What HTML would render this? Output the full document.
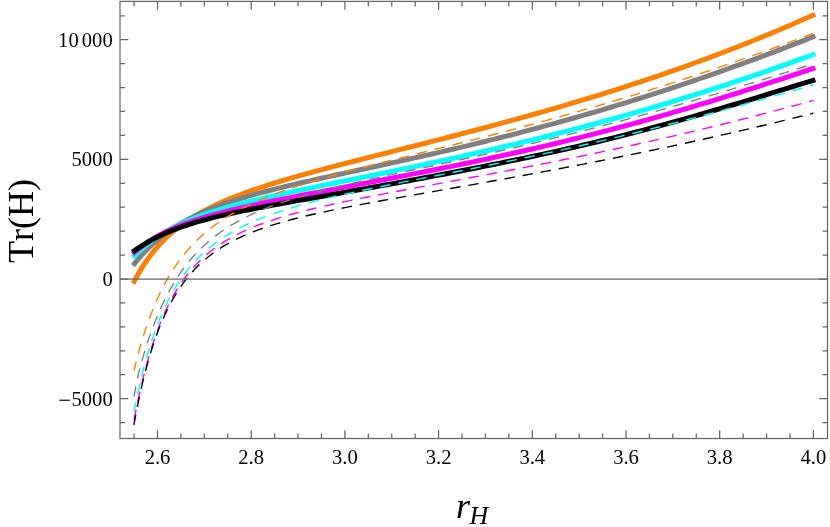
<!DOCTYPE html>
<html><head><meta charset="utf-8"><title>plot</title>
<style>
html,body{margin:0;padding:0;background:#fff;}
body{width:830px;height:527px;overflow:hidden;font-family:"Liberation Serif",serif;}
svg{display:block;}
text{font-family:"Liberation Serif",serif;fill:#000;font-kerning:none;}
</style></head><body>
<svg style="will-change:transform" width="830" height="527" viewBox="0 0 830 527">
<rect width="830" height="527" fill="#fff"/>
<defs><clipPath id="c"><rect x="120.0" y="1.4" width="707.5" height="437.1"/></clipPath></defs>
<g clip-path="url(#c)" stroke-linecap="butt" stroke-linejoin="round">
<path d="M133.16,283.51 L134.07,281.73 L134.28,281.33 L134.69,280.53 L135.26,279.46 L135.95,278.17 L136.76,276.69 L137.66,275.06 L138.67,273.30 L139.76,271.43 L140.94,269.47 L142.20,267.44 L143.54,265.34 L144.95,263.20 L146.44,261.02 L148.00,258.82 L149.62,256.60 L151.31,254.37 L153.07,252.15 L154.89,249.93 L156.77,247.72 L158.71,245.53 L160.71,243.36 L162.76,241.21 L164.88,239.09 L167.05,237.01 L169.28,234.95 L171.55,232.93 L173.89,230.95 L176.27,229.00 L178.71,227.08 L181.20,225.21 L183.74,223.37 L186.32,221.57 L188.96,219.80 L191.65,218.07 L194.38,216.37 L197.16,214.71 L199.99,213.09 L202.86,211.49 L205.78,209.93 L208.74,208.40 L211.75,206.89 L214.81,205.42 L217.90,203.97 L221.04,202.55 L224.23,201.15 L227.46,199.77 L230.72,198.42 L234.04,197.09 L237.39,195.78 L240.78,194.48 L244.22,193.21 L247.69,191.95 L251.21,190.70 L254.77,189.47 L258.36,188.25 L262.00,187.05 L265.67,185.85 L269.38,184.67 L273.14,183.49 L276.93,182.33 L280.75,181.17 L284.62,180.01 L288.52,178.87 L292.47,177.72 L296.44,176.59 L300.46,175.45 L304.51,174.32 L308.60,173.19 L312.72,172.06 L316.88,170.94 L321.08,169.81 L325.31,168.68 L329.58,167.55 L333.88,166.42 L338.22,165.29 L342.59,164.16 L347.00,163.02 L351.44,161.88 L355.92,160.73 L360.43,159.58 L364.97,158.42 L369.55,157.26 L374.16,156.09 L378.81,154.92 L383.48,153.74 L388.20,152.55 L392.94,151.35 L397.72,150.14 L402.53,148.93 L407.37,147.71 L412.24,146.47 L417.15,145.23 L422.09,143.98 L427.06,142.71 L432.06,141.44 L437.10,140.15 L442.16,138.85 L447.26,137.54 L452.39,136.21 L457.55,134.88 L462.74,133.52 L467.96,132.16 L473.22,130.78 L478.50,129.38 L483.81,127.97 L489.16,126.55 L494.53,125.11 L499.94,123.65 L505.37,122.17 L510.84,120.68 L516.34,119.17 L521.86,117.64 L527.41,116.09 L533.00,114.52 L538.61,112.94 L544.26,111.33 L549.93,109.70 L555.63,108.05 L561.36,106.38 L567.12,104.69 L572.91,102.97 L578.72,101.23 L584.57,99.47 L590.44,97.68 L596.35,95.87 L602.28,94.03 L608.24,92.17 L614.23,90.28 L620.24,88.36 L626.29,86.42 L632.36,84.44 L638.46,82.44 L644.59,80.41 L650.74,78.35 L656.92,76.26 L663.13,74.13 L669.37,71.98 L675.64,69.79 L681.93,67.57 L688.25,65.31 L694.60,63.02 L700.97,60.70 L707.37,58.34 L713.80,55.94 L720.26,53.50 L726.74,51.03 L733.24,48.51 L739.78,45.96 L746.34,43.37 L752.93,40.73 L759.54,38.05 L766.18,35.33 L772.85,32.57 L779.54,29.76 L786.26,26.90 L793.01,24.00 L799.78,21.05 L806.58,18.06 L813.40,15.01 L815.23,14.19" fill="none" stroke="#ff8000" stroke-width="5.0"/>
<path d="M132.82,265.65 L134.07,264.09 L134.28,263.84 L134.69,263.33 L135.26,262.64 L135.95,261.80 L136.76,260.84 L137.66,259.76 L138.67,258.59 L139.76,257.34 L140.94,256.01 L142.20,254.62 L143.54,253.17 L144.95,251.68 L146.44,250.14 L148.00,248.58 L149.62,246.99 L151.31,245.38 L153.07,243.76 L154.89,242.13 L156.77,240.50 L158.71,238.87 L160.71,237.24 L162.76,235.62 L164.88,234.02 L167.05,232.43 L169.28,230.85 L171.55,229.29 L173.89,227.75 L176.27,226.23 L178.71,224.74 L181.20,223.27 L183.74,221.82 L186.32,220.39 L188.96,218.99 L191.65,217.61 L194.38,216.26 L197.16,214.93 L199.99,213.62 L202.86,212.34 L205.78,211.08 L208.74,209.84 L211.75,208.62 L214.81,207.43 L217.90,206.25 L221.04,205.10 L224.23,203.96 L227.46,202.84 L230.72,201.74 L234.04,200.65 L237.39,199.58 L240.78,198.53 L244.22,197.49 L247.69,196.46 L251.21,195.44 L254.77,194.43 L258.36,193.44 L262.00,192.45 L265.67,191.48 L269.38,190.51 L273.14,189.55 L276.93,188.59 L280.75,187.64 L284.62,186.70 L288.52,185.76 L292.47,184.82 L296.44,183.89 L300.46,182.95 L304.51,182.02 L308.60,181.09 L312.72,180.16 L316.88,179.23 L321.08,178.30 L325.31,177.36 L329.58,176.42 L333.88,175.48 L338.22,174.54 L342.59,173.59 L347.00,172.63 L351.44,171.67 L355.92,170.70 L360.43,169.73 L364.97,168.75 L369.55,167.76 L374.16,166.76 L378.81,165.76 L383.48,164.74 L388.20,163.72 L392.94,162.68 L397.72,161.64 L402.53,160.58 L407.37,159.51 L412.24,158.43 L417.15,157.33 L422.09,156.22 L427.06,155.10 L432.06,153.97 L437.10,152.82 L442.16,151.65 L447.26,150.47 L452.39,149.28 L457.55,148.06 L462.74,146.84 L467.96,145.59 L473.22,144.33 L478.50,143.05 L483.81,141.75 L489.16,140.44 L494.53,139.10 L499.94,137.75 L505.37,136.38 L510.84,134.98 L516.34,133.57 L521.86,132.14 L527.41,130.69 L533.00,129.21 L538.61,127.72 L544.26,126.20 L549.93,124.66 L555.63,123.10 L561.36,121.52 L567.12,119.91 L572.91,118.28 L578.72,116.63 L584.57,114.95 L590.44,113.25 L596.35,111.53 L602.28,109.78 L608.24,108.00 L614.23,106.20 L620.24,104.38 L626.29,102.53 L632.36,100.65 L638.46,98.75 L644.59,96.82 L650.74,94.87 L656.92,92.89 L663.13,90.88 L669.37,88.84 L675.64,86.78 L681.93,84.69 L688.25,82.57 L694.60,80.42 L700.97,78.25 L707.37,76.04 L713.80,73.81 L720.26,71.55 L726.74,69.25 L733.24,66.93 L739.78,64.58 L746.34,62.20 L752.93,59.79 L759.54,57.35 L766.18,54.88 L772.85,52.37 L779.54,49.84 L786.26,47.28 L793.01,44.68 L799.78,42.05 L806.58,39.39 L813.40,36.70 L815.26,35.97" fill="none" stroke="#808080" stroke-width="5.0"/>
<path d="M132.62,257.55 L134.07,256.17 L134.28,255.98 L134.69,255.59 L135.26,255.06 L135.95,254.41 L136.76,253.66 L137.66,252.81 L138.67,251.89 L139.76,250.89 L140.94,249.83 L142.20,248.72 L143.54,247.55 L144.95,246.35 L146.44,245.12 L148.00,243.86 L149.62,242.58 L151.31,241.28 L153.07,239.98 L154.89,238.67 L156.77,237.36 L158.71,236.06 L160.71,234.76 L162.76,233.47 L164.88,232.19 L167.05,230.92 L169.28,229.67 L171.55,228.43 L173.89,227.21 L176.27,226.01 L178.71,224.83 L181.20,223.66 L183.74,222.51 L186.32,221.38 L188.96,220.27 L191.65,219.18 L194.38,218.10 L197.16,217.05 L199.99,216.00 L202.86,214.98 L205.78,213.97 L208.74,212.97 L211.75,211.99 L214.81,211.02 L217.90,210.07 L221.04,209.12 L224.23,208.19 L227.46,207.27 L230.72,206.36 L234.04,205.46 L237.39,204.56 L240.78,203.68 L244.22,202.80 L247.69,201.93 L251.21,201.06 L254.77,200.20 L258.36,199.34 L262.00,198.49 L265.67,197.64 L269.38,196.79 L273.14,195.95 L276.93,195.11 L280.75,194.27 L284.62,193.42 L288.52,192.58 L292.47,191.74 L296.44,190.90 L300.46,190.05 L304.51,189.21 L308.60,188.36 L312.72,187.50 L316.88,186.65 L321.08,185.79 L325.31,184.92 L329.58,184.05 L333.88,183.18 L338.22,182.30 L342.59,181.41 L347.00,180.52 L351.44,179.62 L355.92,178.71 L360.43,177.80 L364.97,176.88 L369.55,175.95 L374.16,175.01 L378.81,174.06 L383.48,173.10 L388.20,172.13 L392.94,171.15 L397.72,170.16 L402.53,169.17 L407.37,168.15 L412.24,167.13 L417.15,166.10 L422.09,165.05 L427.06,164.00 L432.06,162.92 L437.10,161.84 L442.16,160.74 L447.26,159.63 L452.39,158.51 L457.55,157.37 L462.74,156.21 L467.96,155.05 L473.22,153.86 L478.50,152.66 L483.81,151.45 L489.16,150.22 L494.53,148.97 L499.94,147.71 L505.37,146.42 L510.84,145.13 L516.34,143.81 L521.86,142.48 L527.41,141.13 L533.00,139.76 L538.61,138.37 L544.26,136.96 L549.93,135.53 L555.63,134.09 L561.36,132.62 L567.12,131.13 L572.91,129.63 L578.72,128.10 L584.57,126.55 L590.44,124.98 L596.35,123.39 L602.28,121.78 L608.24,120.15 L614.23,118.49 L620.24,116.81 L626.29,115.11 L632.36,113.38 L638.46,111.64 L644.59,109.86 L650.74,108.07 L656.92,106.25 L663.13,104.40 L669.37,102.53 L675.64,100.64 L681.93,98.71 L688.25,96.77 L694.60,94.79 L700.97,92.80 L707.37,90.77 L713.80,88.72 L720.26,86.64 L726.74,84.53 L733.24,82.39 L739.78,80.23 L746.34,78.04 L752.93,75.82 L759.54,73.57 L766.18,71.29 L772.85,68.98 L779.54,66.64 L786.26,64.28 L793.01,61.88 L799.78,59.45 L806.58,56.99 L813.40,54.49 L815.28,53.81" fill="none" stroke="#00ffff" stroke-width="5.0"/>
<path d="M132.57,254.06 L134.07,252.74 L134.28,252.57 L134.69,252.20 L135.26,251.72 L135.95,251.13 L136.76,250.45 L137.66,249.71 L138.67,248.90 L139.76,248.03 L140.94,247.12 L142.20,246.17 L143.54,245.18 L144.95,244.17 L146.44,243.13 L148.00,242.07 L149.62,241.00 L151.31,239.92 L153.07,238.84 L154.89,237.75 L156.77,236.66 L158.71,235.57 L160.71,234.49 L162.76,233.41 L164.88,232.34 L167.05,231.28 L169.28,230.23 L171.55,229.20 L173.89,228.17 L176.27,227.16 L178.71,226.16 L181.20,225.17 L183.74,224.20 L186.32,223.24 L188.96,222.30 L191.65,221.37 L194.38,220.45 L197.16,219.55 L199.99,218.65 L202.86,217.78 L205.78,216.91 L208.74,216.05 L211.75,215.20 L214.81,214.37 L217.90,213.54 L221.04,212.72 L224.23,211.91 L227.46,211.10 L230.72,210.30 L234.04,209.51 L237.39,208.72 L240.78,207.94 L244.22,207.16 L247.69,206.39 L251.21,205.61 L254.77,204.84 L258.36,204.07 L262.00,203.30 L265.67,202.53 L269.38,201.77 L273.14,201.00 L276.93,200.23 L280.75,199.45 L284.62,198.68 L288.52,197.91 L292.47,197.13 L296.44,196.35 L300.46,195.56 L304.51,194.77 L308.60,193.98 L312.72,193.19 L316.88,192.39 L321.08,191.58 L325.31,190.77 L329.58,189.96 L333.88,189.14 L338.22,188.31 L342.59,187.48 L347.00,186.64 L351.44,185.80 L355.92,184.95 L360.43,184.09 L364.97,183.22 L369.55,182.35 L374.16,181.47 L378.81,180.58 L383.48,179.69 L388.20,178.78 L392.94,177.87 L397.72,176.95 L402.53,176.02 L407.37,175.08 L412.24,174.13 L417.15,173.17 L422.09,172.20 L427.06,171.21 L432.06,170.22 L437.10,169.22 L442.16,168.20 L447.26,167.17 L452.39,166.13 L457.55,165.08 L462.74,164.01 L467.96,162.93 L473.22,161.83 L478.50,160.73 L483.81,159.60 L489.16,158.46 L494.53,157.31 L499.94,156.14 L505.37,154.95 L510.84,153.75 L516.34,152.52 L521.86,151.28 L527.41,150.03 L533.00,148.75 L538.61,147.46 L544.26,146.14 L549.93,144.81 L555.63,143.46 L561.36,142.08 L567.12,140.69 L572.91,139.27 L578.72,137.84 L584.57,136.38 L590.44,134.90 L596.35,133.40 L602.28,131.87 L608.24,130.32 L614.23,128.75 L620.24,127.16 L626.29,125.54 L632.36,123.90 L638.46,122.23 L644.59,120.54 L650.74,118.82 L656.92,117.09 L663.13,115.32 L669.37,113.54 L675.64,111.72 L681.93,109.89 L688.25,108.03 L694.60,106.14 L700.97,104.23 L707.37,102.30 L713.80,100.35 L720.26,98.37 L726.74,96.36 L733.24,94.34 L739.78,92.29 L746.34,90.22 L752.93,88.12 L759.54,86.01 L766.18,83.87 L772.85,81.72 L779.54,79.54 L786.26,77.35 L793.01,75.13 L799.78,72.90 L806.58,70.66 L813.40,68.39 L815.30,67.76" fill="none" stroke="#ff00ff" stroke-width="5.0"/>
<path d="M132.45,252.15 L134.07,250.98 L134.28,250.84 L134.69,250.54 L135.26,250.14 L135.95,249.65 L136.76,249.09 L137.66,248.47 L138.67,247.79 L139.76,247.07 L140.94,246.30 L142.20,245.49 L143.54,244.66 L144.95,243.79 L146.44,242.91 L148.00,242.00 L149.62,241.08 L151.31,240.15 L153.07,239.20 L154.89,238.25 L156.77,237.30 L158.71,236.34 L160.71,235.38 L162.76,234.43 L164.88,233.47 L167.05,232.53 L169.28,231.59 L171.55,230.66 L173.89,229.73 L176.27,228.82 L178.71,227.91 L181.20,227.02 L183.74,226.14 L186.32,225.26 L188.96,224.40 L191.65,223.56 L194.38,222.72 L197.16,221.90 L199.99,221.08 L202.86,220.28 L205.78,219.49 L208.74,218.71 L211.75,217.94 L214.81,217.18 L217.90,216.43 L221.04,215.68 L224.23,214.95 L227.46,214.22 L230.72,213.49 L234.04,212.78 L237.39,212.07 L240.78,211.36 L244.22,210.66 L247.69,209.96 L251.21,209.26 L254.77,208.56 L258.36,207.87 L262.00,207.17 L265.67,206.48 L269.38,205.79 L273.14,205.09 L276.93,204.39 L280.75,203.69 L284.62,202.99 L288.52,202.28 L292.47,201.57 L296.44,200.86 L300.46,200.14 L304.51,199.42 L308.60,198.69 L312.72,197.96 L316.88,197.22 L321.08,196.48 L325.31,195.73 L329.58,194.97 L333.88,194.20 L338.22,193.43 L342.59,192.66 L347.00,191.87 L351.44,191.08 L355.92,190.28 L360.43,189.47 L364.97,188.65 L369.55,187.83 L374.16,187.00 L378.81,186.16 L383.48,185.31 L388.20,184.46 L392.94,183.59 L397.72,182.72 L402.53,181.84 L407.37,180.95 L412.24,180.05 L417.15,179.14 L422.09,178.22 L427.06,177.29 L432.06,176.35 L437.10,175.41 L442.16,174.45 L447.26,173.48 L452.39,172.50 L457.55,171.51 L462.74,170.51 L467.96,169.50 L473.22,168.47 L478.50,167.43 L483.81,166.38 L489.16,165.32 L494.53,164.24 L499.94,163.15 L505.37,162.04 L510.84,160.92 L516.34,159.79 L521.86,158.63 L527.41,157.46 L533.00,156.28 L538.61,155.07 L544.26,153.85 L549.93,152.61 L555.63,151.35 L561.36,150.07 L567.12,148.77 L572.91,147.45 L578.72,146.11 L584.57,144.75 L590.44,143.36 L596.35,141.95 L602.28,140.52 L608.24,139.07 L614.23,137.59 L620.24,136.09 L626.29,134.56 L632.36,133.00 L638.46,131.43 L644.59,129.82 L650.74,128.19 L656.92,126.54 L663.13,124.86 L669.37,123.15 L675.64,121.42 L681.93,119.66 L688.25,117.88 L694.60,116.07 L700.97,114.24 L707.37,112.39 L713.80,110.51 L720.26,108.61 L726.74,106.68 L733.24,104.74 L739.78,102.77 L746.34,100.79 L752.93,98.79 L759.54,96.78 L766.18,94.74 L772.85,92.70 L779.54,90.65 L786.26,88.58 L793.01,86.51 L799.78,84.44 L806.58,82.36 L813.40,80.29 L815.31,79.71" fill="none" stroke="#000000" stroke-width="5.0"/>
<path d="M813.40,33.32 L809.77,34.69 L806.14,36.06 L802.53,37.43 L798.92,38.78 L795.32,40.12 L791.72,41.46 L788.13,42.79 L784.55,44.11 L780.98,45.42 L777.41,46.73 L773.86,48.03 L770.31,49.32 L766.76,50.60 L763.23,51.87 L759.70,53.14 L756.18,54.40 L752.66,55.65 L749.16,56.89 L745.66,58.13 L742.17,59.35 L738.69,60.57 L735.21,61.79 L731.74,62.99 L728.28,64.19 L724.83,65.38 L721.38,66.56 L717.94,67.74 L714.51,68.90 L711.09,70.06 L707.67,71.22 L704.26,72.36 L700.86,73.50 L697.47,74.63 L694.09,75.76 L690.71,76.87 L687.34,77.98 L683.98,79.09 L680.62,80.18 L677.28,81.27 L673.94,82.35 L670.61,83.43 L667.28,84.50 L663.97,85.56 L660.66,86.61 L657.36,87.66 L654.07,88.70 L650.78,89.73 L647.51,90.76 L644.24,91.78 L640.98,92.79 L637.72,93.80 L634.48,94.80 L631.24,95.80 L628.01,96.78 L624.79,97.77 L621.57,98.74 L618.37,99.71 L615.17,100.67 L611.98,101.63 L608.80,102.58 L605.62,103.52 L602.46,104.46 L599.30,105.39 L596.15,106.31 L593.01,107.23 L589.87,108.15 L586.75,109.05 L583.63,109.95 L580.52,110.85 L577.42,111.74 L574.33,112.62 L571.24,113.50 L568.16,114.37 L565.09,115.24 L562.03,116.10 L558.98,116.96 L555.94,117.81 L552.90,118.65 L549.87,119.49 L546.85,120.32 L543.84,121.15 L540.84,121.98 L537.84,122.79 L534.85,123.61 L531.88,124.41 L528.91,125.22 L525.94,126.01 L522.99,126.81 L520.05,127.59 L517.11,128.38 L514.18,129.16 L511.26,129.93 L508.35,130.70 L505.45,131.46 L502.55,132.22 L499.67,132.98 L496.79,133.73 L493.92,134.47 L491.06,135.22 L488.21,135.95 L485.37,136.69 L482.53,137.42 L479.71,138.14 L476.89,138.86 L474.08,139.58 L471.28,140.29 L468.49,141.00 L465.71,141.71 L462.93,142.41 L460.17,143.11 L457.41,143.80 L454.67,144.50 L451.93,145.18 L449.20,145.87 L446.48,146.55 L443.76,147.23 L441.06,147.90 L438.37,148.58 L435.68,149.24 L433.00,149.91 L430.34,150.57 L427.68,151.24 L425.03,151.89 L422.39,152.55 L419.76,153.20 L417.13,153.85 L414.52,154.50 L411.92,155.15 L409.32,155.79 L406.74,156.44 L404.16,157.08 L401.59,157.72 L399.03,158.35 L396.48,158.99 L393.94,159.62 L391.41,160.26 L388.89,160.89 L386.38,161.52 L383.88,162.15 L381.38,162.77 L378.90,163.40 L376.43,164.03 L373.96,164.65 L371.50,165.28 L369.06,165.91 L366.62,166.53 L364.19,167.16 L361.78,167.78 L359.37,168.41 L356.97,169.03 L354.58,169.66 L352.20,170.28 L349.83,170.91 L347.47,171.54 L345.12,172.17 L342.78,172.80 L340.45,173.43 L338.13,174.06 L335.82,174.69 L333.52,175.33 L331.23,175.97 L328.95,176.61 L326.68,177.25 L324.42,177.90 L322.17,178.54 L319.93,179.19 L317.70,179.85 L315.48,180.50 L313.26,181.16 L311.06,181.82 L308.87,182.49 L306.69,183.16 L304.52,183.84 L302.37,184.52 L300.22,185.20 L298.08,185.89 L295.95,186.58 L293.83,187.28 L291.72,187.99 L289.63,188.70 L287.54,189.41 L285.47,190.14 L283.40,190.86 L281.35,191.60 L279.30,192.34 L277.27,193.09 L275.25,193.85 L273.24,194.61 L271.24,195.39 L269.25,196.17 L267.27,196.96 L265.30,197.76 L263.34,198.57 L261.40,199.39 L259.46,200.21 L257.54,201.05 L255.63,201.90 L253.73,202.76 L251.84,203.63 L249.96,204.51 L248.09,205.41 L246.24,206.31 L244.39,207.23 L242.56,208.16 L240.74,209.11 L238.93,210.07 L237.13,211.04 L235.34,212.02 L233.57,213.03 L231.80,214.04 L230.05,215.08 L228.31,216.13 L226.59,217.19 L224.87,218.27 L223.17,219.37 L221.48,220.49 L219.80,221.62 L218.13,222.78 L216.48,223.95 L214.84,225.14 L213.21,226.35 L211.59,227.58 L209.99,228.84 L208.39,230.11 L206.82,231.41 L205.25,232.72 L203.70,234.06 L202.15,235.42 L200.63,236.81 L199.11,238.22 L197.61,239.65 L196.12,241.11 L194.65,242.59 L193.19,244.10 L191.74,245.63 L190.30,247.19 L188.88,248.77 L187.47,250.38 L186.08,252.02 L184.70,253.68 L183.33,255.37 L181.98,257.09 L180.64,258.84 L179.32,260.62 L178.01,262.42 L176.72,264.25 L175.44,266.11 L174.17,268.00 L172.92,269.91 L171.69,271.86 L170.47,273.83 L169.26,275.83 L168.07,277.85 L166.90,279.91 L165.74,281.99 L164.59,284.09 L163.47,286.23 L162.35,288.39 L161.26,290.57 L160.18,292.77 L159.12,295.00 L158.07,297.25 L157.04,299.52 L156.03,301.81 L155.03,304.12 L154.06,306.45 L153.10,308.79 L152.15,311.14 L151.23,313.51 L150.32,315.88 L149.44,318.26 L148.57,320.64 L147.72,323.03 L146.89,325.41 L146.08,327.79 L145.29,330.17 L144.52,332.53 L143.77,334.88 L143.04,337.21 L142.34,339.51 L141.65,341.79 L140.99,344.04 L140.35,346.25 L139.73,348.42 L139.14,350.54 L138.58,352.60 L138.03,354.61 L137.52,356.55 L137.03,358.41 L136.57,360.19 L136.14,361.87 L135.75,363.46 L135.38,364.93 L135.05,366.27 L134.76,367.47 L134.51,368.52 L134.30,369.37 L134.15,370.01 L134.07,370.32 L133.96,370.81" fill="none" stroke="#ff8000" stroke-width="1.4" stroke-dasharray="10.45 7.960" stroke-dashoffset="0.65"/>
<path d="M813.40,63.76 L809.77,64.91 L806.14,66.06 L802.53,67.21 L798.92,68.36 L795.32,69.49 L791.72,70.63 L788.13,71.76 L784.55,72.88 L780.98,74.00 L777.41,75.12 L773.86,76.23 L770.31,77.33 L766.76,78.43 L763.23,79.53 L759.70,80.62 L756.18,81.71 L752.66,82.79 L749.16,83.86 L745.66,84.93 L742.17,86.00 L738.69,87.06 L735.21,88.11 L731.74,89.16 L728.28,90.21 L724.83,91.25 L721.38,92.28 L717.94,93.31 L714.51,94.33 L711.09,95.35 L707.67,96.36 L704.26,97.37 L700.86,98.37 L697.47,99.36 L694.09,100.35 L690.71,101.34 L687.34,102.32 L683.98,103.29 L680.62,104.26 L677.28,105.22 L673.94,106.18 L670.61,107.13 L667.28,108.08 L663.97,109.02 L660.66,109.95 L657.36,110.88 L654.07,111.80 L650.78,112.72 L647.51,113.64 L644.24,114.54 L640.98,115.44 L637.72,116.34 L634.48,117.23 L631.24,118.11 L628.01,118.99 L624.79,119.86 L621.57,120.73 L618.37,121.59 L615.17,122.45 L611.98,123.30 L608.80,124.15 L605.62,124.99 L602.46,125.82 L599.30,126.65 L596.15,127.47 L593.01,128.29 L589.87,129.10 L586.75,129.91 L583.63,130.71 L580.52,131.50 L577.42,132.29 L574.33,133.08 L571.24,133.86 L568.16,134.63 L565.09,135.40 L562.03,136.17 L558.98,136.92 L555.94,137.68 L552.90,138.43 L549.87,139.17 L546.85,139.91 L543.84,140.64 L540.84,141.37 L537.84,142.09 L534.85,142.81 L531.88,143.52 L528.91,144.23 L525.94,144.93 L522.99,145.63 L520.05,146.32 L517.11,147.01 L514.18,147.69 L511.26,148.37 L508.35,149.05 L505.45,149.72 L502.55,150.38 L499.67,151.04 L496.79,151.70 L493.92,152.35 L491.06,153.00 L488.21,153.64 L485.37,154.28 L482.53,154.92 L479.71,155.55 L476.89,156.18 L474.08,156.80 L471.28,157.42 L468.49,158.04 L465.71,158.65 L462.93,159.26 L460.17,159.86 L457.41,160.46 L454.67,161.06 L451.93,161.66 L449.20,162.25 L446.48,162.84 L443.76,163.42 L441.06,164.01 L438.37,164.59 L435.68,165.16 L433.00,165.74 L430.34,166.31 L427.68,166.88 L425.03,167.44 L422.39,168.01 L419.76,168.57 L417.13,169.13 L414.52,169.69 L411.92,170.24 L409.32,170.80 L406.74,171.35 L404.16,171.90 L401.59,172.45 L399.03,173.00 L396.48,173.54 L393.94,174.09 L391.41,174.63 L388.89,175.17 L386.38,175.72 L383.88,176.26 L381.38,176.80 L378.90,177.34 L376.43,177.88 L373.96,178.42 L371.50,178.96 L369.06,179.50 L366.62,180.05 L364.19,180.59 L361.78,181.13 L359.37,181.67 L356.97,182.22 L354.58,182.76 L352.20,183.31 L349.83,183.86 L347.47,184.41 L345.12,184.96 L342.78,185.51 L340.45,186.07 L338.13,186.62 L335.82,187.18 L333.52,187.75 L331.23,188.31 L328.95,188.88 L326.68,189.46 L324.42,190.03 L322.17,190.61 L319.93,191.19 L317.70,191.78 L315.48,192.37 L313.26,192.97 L311.06,193.57 L308.87,194.18 L306.69,194.79 L304.52,195.41 L302.37,196.03 L300.22,196.66 L298.08,197.30 L295.95,197.94 L293.83,198.59 L291.72,199.25 L289.63,199.91 L287.54,200.58 L285.47,201.26 L283.40,201.95 L281.35,202.64 L279.30,203.35 L277.27,204.06 L275.25,204.79 L273.24,205.52 L271.24,206.26 L269.25,207.02 L267.27,207.78 L265.30,208.56 L263.34,209.35 L261.40,210.15 L259.46,210.96 L257.54,211.78 L255.63,212.62 L253.73,213.47 L251.84,214.33 L249.96,215.21 L248.09,216.10 L246.24,217.01 L244.39,217.93 L242.56,218.87 L240.74,219.83 L238.93,220.80 L237.13,221.79 L235.34,222.79 L233.57,223.81 L231.80,224.86 L230.05,225.92 L228.31,227.00 L226.59,228.10 L224.87,229.22 L223.17,230.36 L221.48,231.52 L219.80,232.70 L218.13,233.91 L216.48,235.13 L214.84,236.38 L213.21,237.66 L211.59,238.96 L209.99,240.28 L208.39,241.63 L206.82,243.00 L205.25,244.40 L203.70,245.82 L202.15,247.28 L200.63,248.75 L199.11,250.26 L197.61,251.80 L196.12,253.36 L194.65,254.95 L193.19,256.57 L191.74,258.23 L190.30,259.91 L188.88,261.62 L187.47,263.36 L186.08,265.13 L184.70,266.94 L183.33,268.77 L181.98,270.64 L180.64,272.54 L179.32,274.47 L178.01,276.43 L176.72,278.42 L175.44,280.45 L174.17,282.50 L172.92,284.59 L171.69,286.70 L170.47,288.85 L169.26,291.03 L168.07,293.23 L166.90,295.47 L165.74,297.73 L164.59,300.02 L163.47,302.34 L162.35,304.68 L161.26,307.04 L160.18,309.43 L159.12,311.84 L158.07,314.27 L157.04,316.71 L156.03,319.18 L155.03,321.65 L154.06,324.15 L153.10,326.65 L152.15,329.16 L151.23,331.68 L150.32,334.21 L149.44,336.74 L148.57,339.27 L147.72,341.80 L146.89,344.33 L146.08,346.85 L145.29,349.36 L144.52,351.87 L143.77,354.37 L143.04,356.86 L142.34,359.33 L141.65,361.79 L140.99,364.23 L140.35,366.65 L139.73,369.05 L139.14,371.42 L138.58,373.77 L138.03,376.08 L137.52,378.35 L137.03,380.58 L136.57,382.75 L136.14,384.85 L135.75,386.87 L135.38,388.79 L135.05,390.59 L134.76,392.23 L134.51,393.68 L134.30,394.90 L134.15,395.81 L134.07,396.27 L133.99,396.76" fill="none" stroke="#808080" stroke-width="1.4" stroke-dasharray="10.45 7.950" stroke-dashoffset="11.3"/>
<path d="M813.40,84.78 L809.77,85.83 L806.14,86.88 L802.53,87.92 L798.92,88.96 L795.32,89.99 L791.72,91.02 L788.13,92.05 L784.55,93.07 L780.98,94.08 L777.41,95.10 L773.86,96.10 L770.31,97.10 L766.76,98.10 L763.23,99.09 L759.70,100.08 L756.18,101.06 L752.66,102.04 L749.16,103.01 L745.66,103.98 L742.17,104.94 L738.69,105.90 L735.21,106.85 L731.74,107.80 L728.28,108.74 L724.83,109.68 L721.38,110.61 L717.94,111.54 L714.51,112.46 L711.09,113.38 L707.67,114.29 L704.26,115.19 L700.86,116.09 L697.47,116.99 L694.09,117.88 L690.71,118.76 L687.34,119.64 L683.98,120.52 L680.62,121.39 L677.28,122.25 L673.94,123.11 L670.61,123.96 L667.28,124.81 L663.97,125.65 L660.66,126.49 L657.36,127.32 L654.07,128.14 L650.78,128.97 L647.51,129.78 L644.24,130.59 L640.98,131.40 L637.72,132.20 L634.48,132.99 L631.24,133.78 L628.01,134.56 L624.79,135.34 L621.57,136.11 L618.37,136.88 L615.17,137.64 L611.98,138.40 L608.80,139.15 L605.62,139.90 L602.46,140.64 L599.30,141.38 L596.15,142.11 L593.01,142.84 L589.87,143.56 L586.75,144.28 L583.63,144.99 L580.52,145.70 L577.42,146.40 L574.33,147.10 L571.24,147.79 L568.16,148.48 L565.09,149.16 L562.03,149.84 L558.98,150.51 L555.94,151.18 L552.90,151.84 L549.87,152.50 L546.85,153.16 L543.84,153.81 L540.84,154.46 L537.84,155.10 L534.85,155.73 L531.88,156.37 L528.91,157.00 L525.94,157.62 L522.99,158.24 L520.05,158.86 L517.11,159.47 L514.18,160.08 L511.26,160.68 L508.35,161.29 L505.45,161.88 L502.55,162.48 L499.67,163.07 L496.79,163.65 L493.92,164.23 L491.06,164.81 L488.21,165.39 L485.37,165.96 L482.53,166.53 L479.71,167.09 L476.89,167.66 L474.08,168.22 L471.28,168.77 L468.49,169.33 L465.71,169.88 L462.93,170.42 L460.17,170.97 L457.41,171.51 L454.67,172.05 L451.93,172.59 L449.20,173.12 L446.48,173.65 L443.76,174.18 L441.06,174.71 L438.37,175.24 L435.68,175.76 L433.00,176.28 L430.34,176.80 L427.68,177.32 L425.03,177.84 L422.39,178.36 L419.76,178.87 L417.13,179.38 L414.52,179.89 L411.92,180.40 L409.32,180.91 L406.74,181.42 L404.16,181.93 L401.59,182.43 L399.03,182.94 L396.48,183.44 L393.94,183.95 L391.41,184.45 L388.89,184.96 L386.38,185.46 L383.88,185.97 L381.38,186.47 L378.90,186.97 L376.43,187.48 L373.96,187.98 L371.50,188.49 L369.06,189.00 L366.62,189.51 L364.19,190.01 L361.78,190.52 L359.37,191.03 L356.97,191.55 L354.58,192.06 L352.20,192.58 L349.83,193.09 L347.47,193.61 L345.12,194.14 L342.78,194.66 L340.45,195.19 L338.13,195.72 L335.82,196.25 L333.52,196.78 L331.23,197.32 L328.95,197.86 L326.68,198.41 L324.42,198.95 L322.17,199.51 L319.93,200.06 L317.70,200.62 L315.48,201.19 L313.26,201.76 L311.06,202.33 L308.87,202.91 L306.69,203.49 L304.52,204.08 L302.37,204.68 L300.22,205.28 L298.08,205.89 L295.95,206.50 L293.83,207.12 L291.72,207.75 L289.63,208.38 L287.54,209.03 L285.47,209.68 L283.40,210.33 L281.35,211.00 L279.30,211.67 L277.27,212.36 L275.25,213.05 L273.24,213.75 L271.24,214.46 L269.25,215.18 L267.27,215.91 L265.30,216.65 L263.34,217.41 L261.40,218.17 L259.46,218.95 L257.54,219.74 L255.63,220.54 L253.73,221.35 L251.84,222.18 L249.96,223.02 L248.09,223.87 L246.24,224.74 L244.39,225.63 L242.56,226.53 L240.74,227.45 L238.93,228.38 L237.13,229.33 L235.34,230.29 L233.57,231.28 L231.80,232.28 L230.05,233.30 L228.31,234.34 L226.59,235.40 L224.87,236.49 L223.17,237.59 L221.48,238.71 L219.80,239.86 L218.13,241.03 L216.48,242.22 L214.84,243.43 L213.21,244.67 L211.59,245.94 L209.99,247.23 L208.39,248.55 L206.82,249.89 L205.25,251.26 L203.70,252.66 L202.15,254.09 L200.63,255.55 L199.11,257.04 L197.61,258.56 L196.12,260.11 L194.65,261.69 L193.19,263.31 L191.74,264.95 L190.30,266.63 L188.88,268.35 L187.47,270.10 L186.08,271.88 L184.70,273.70 L183.33,275.56 L181.98,277.45 L180.64,279.38 L179.32,281.35 L178.01,283.36 L176.72,285.40 L175.44,287.48 L174.17,289.60 L172.92,291.76 L171.69,293.96 L170.47,296.19 L169.26,298.46 L168.07,300.78 L166.90,303.12 L165.74,305.51 L164.59,307.94 L163.47,310.40 L162.35,312.89 L161.26,315.43 L160.18,317.99 L159.12,320.59 L158.07,323.22 L157.04,325.89 L156.03,328.58 L155.03,331.30 L154.06,334.04 L153.10,336.81 L152.15,339.60 L151.23,342.41 L150.32,345.24 L149.44,348.08 L148.57,350.93 L147.72,353.79 L146.89,356.65 L146.08,359.51 L145.29,362.37 L144.52,365.22 L143.77,368.05 L143.04,370.87 L142.34,373.66 L141.65,376.43 L140.99,379.16 L140.35,381.85 L139.73,384.49 L139.14,387.07 L138.58,389.59 L138.03,392.04 L137.52,394.40 L137.03,396.68 L136.57,398.86 L136.14,400.92 L135.75,402.86 L135.38,404.67 L135.05,406.31 L134.76,407.79 L134.51,409.07 L134.30,410.12 L134.15,410.90 L134.07,411.29 L134.00,411.68" fill="none" stroke="#00ffff" stroke-width="1.4" stroke-dasharray="10.45 7.950" stroke-dashoffset="6.9"/>
<path d="M813.40,100.30 L809.77,101.31 L806.14,102.32 L802.53,103.32 L798.92,104.31 L795.32,105.30 L791.72,106.27 L788.13,107.25 L784.55,108.21 L780.98,109.17 L777.41,110.12 L773.86,111.07 L770.31,112.01 L766.76,112.94 L763.23,113.86 L759.70,114.78 L756.18,115.70 L752.66,116.60 L749.16,117.51 L745.66,118.40 L742.17,119.29 L738.69,120.17 L735.21,121.05 L731.74,121.92 L728.28,122.78 L724.83,123.64 L721.38,124.50 L717.94,125.34 L714.51,126.19 L711.09,127.02 L707.67,127.85 L704.26,128.68 L700.86,129.50 L697.47,130.31 L694.09,131.12 L690.71,131.92 L687.34,132.72 L683.98,133.51 L680.62,134.29 L677.28,135.08 L673.94,135.85 L670.61,136.62 L667.28,137.39 L663.97,138.15 L660.66,138.90 L657.36,139.65 L654.07,140.40 L650.78,141.14 L647.51,141.88 L644.24,142.61 L640.98,143.33 L637.72,144.05 L634.48,144.77 L631.24,145.48 L628.01,146.19 L624.79,146.89 L621.57,147.59 L618.37,148.28 L615.17,148.97 L611.98,149.66 L608.80,150.34 L605.62,151.01 L602.46,151.68 L599.30,152.35 L596.15,153.01 L593.01,153.67 L589.87,154.33 L586.75,154.98 L583.63,155.62 L580.52,156.26 L577.42,156.90 L574.33,157.54 L571.24,158.17 L568.16,158.79 L565.09,159.41 L562.03,160.03 L558.98,160.65 L555.94,161.26 L552.90,161.87 L549.87,162.47 L546.85,163.07 L543.84,163.67 L540.84,164.26 L537.84,164.85 L534.85,165.44 L531.88,166.02 L528.91,166.60 L525.94,167.18 L522.99,167.75 L520.05,168.32 L517.11,168.88 L514.18,169.45 L511.26,170.01 L508.35,170.57 L505.45,171.12 L502.55,171.67 L499.67,172.22 L496.79,172.77 L493.92,173.31 L491.06,173.85 L488.21,174.39 L485.37,174.92 L482.53,175.45 L479.71,175.98 L476.89,176.51 L474.08,177.04 L471.28,177.56 L468.49,178.08 L465.71,178.60 L462.93,179.11 L460.17,179.62 L457.41,180.14 L454.67,180.64 L451.93,181.15 L449.20,181.66 L446.48,182.16 L443.76,182.66 L441.06,183.16 L438.37,183.66 L435.68,184.15 L433.00,184.65 L430.34,185.14 L427.68,185.63 L425.03,186.12 L422.39,186.61 L419.76,187.10 L417.13,187.59 L414.52,188.07 L411.92,188.56 L409.32,189.04 L406.74,189.52 L404.16,190.01 L401.59,190.49 L399.03,190.97 L396.48,191.45 L393.94,191.93 L391.41,192.40 L388.89,192.88 L386.38,193.36 L383.88,193.84 L381.38,194.32 L378.90,194.80 L376.43,195.27 L373.96,195.75 L371.50,196.23 L369.06,196.71 L366.62,197.19 L364.19,197.67 L361.78,198.16 L359.37,198.64 L356.97,199.12 L354.58,199.61 L352.20,200.09 L349.83,200.58 L347.47,201.07 L345.12,201.56 L342.78,202.05 L340.45,202.55 L338.13,203.05 L335.82,203.54 L333.52,204.05 L331.23,204.55 L328.95,205.06 L326.68,205.57 L324.42,206.08 L322.17,206.60 L319.93,207.12 L317.70,207.64 L315.48,208.17 L313.26,208.70 L311.06,209.24 L308.87,209.78 L306.69,210.32 L304.52,210.87 L302.37,211.42 L300.22,211.99 L298.08,212.55 L295.95,213.12 L293.83,213.70 L291.72,214.28 L289.63,214.87 L287.54,215.47 L285.47,216.08 L283.40,216.69 L281.35,217.31 L279.30,217.94 L277.27,218.57 L275.25,219.22 L273.24,219.87 L271.24,220.54 L269.25,221.21 L267.27,221.89 L265.30,222.59 L263.34,223.29 L261.40,224.01 L259.46,224.73 L257.54,225.47 L255.63,226.22 L253.73,226.99 L251.84,227.77 L249.96,228.56 L248.09,229.37 L246.24,230.19 L244.39,231.02 L242.56,231.87 L240.74,232.74 L238.93,233.63 L237.13,234.53 L235.34,235.45 L233.57,236.38 L231.80,237.34 L230.05,238.32 L228.31,239.31 L226.59,240.33 L224.87,241.37 L223.17,242.43 L221.48,243.51 L219.80,244.62 L218.13,245.75 L216.48,246.90 L214.84,248.08 L213.21,249.29 L211.59,250.52 L209.99,251.78 L208.39,253.07 L206.82,254.38 L205.25,255.73 L203.70,257.11 L202.15,258.51 L200.63,259.95 L199.11,261.42 L197.61,262.93 L196.12,264.47 L194.65,266.04 L193.19,267.65 L191.74,269.29 L190.30,270.97 L188.88,272.69 L187.47,274.45 L186.08,276.24 L184.70,278.08 L183.33,279.95 L181.98,281.86 L180.64,283.82 L179.32,285.82 L178.01,287.86 L176.72,289.94 L175.44,292.06 L174.17,294.22 L172.92,296.43 L171.69,298.68 L170.47,300.98 L169.26,303.32 L168.07,305.70 L166.90,308.12 L165.74,310.58 L164.59,313.09 L163.47,315.64 L162.35,318.23 L161.26,320.85 L160.18,323.52 L159.12,326.22 L158.07,328.96 L157.04,331.73 L156.03,334.53 L155.03,337.37 L154.06,340.23 L153.10,343.12 L152.15,346.03 L151.23,348.96 L150.32,351.91 L149.44,354.87 L148.57,357.84 L147.72,360.82 L146.89,363.80 L146.08,366.78 L145.29,369.75 L144.52,372.71 L143.77,375.65 L143.04,378.57 L142.34,381.46 L141.65,384.32 L140.99,387.13 L140.35,389.90 L139.73,392.61 L139.14,395.25 L138.58,397.83 L138.03,400.33 L137.52,402.74 L137.03,405.05 L136.57,407.25 L136.14,409.34 L135.75,411.29 L135.38,413.10 L135.05,414.76 L134.76,416.24 L134.51,417.52 L134.30,418.57 L134.15,419.34 L134.07,419.72 L133.87,420.80" fill="none" stroke="#ff00ff" stroke-width="1.4" stroke-dasharray="10.45 7.930" stroke-dashoffset="6.0"/>
<path d="M813.40,113.15 L809.77,114.07 L806.14,114.98 L802.53,115.89 L798.92,116.79 L795.32,117.68 L791.72,118.57 L788.13,119.45 L784.55,120.32 L780.98,121.19 L777.41,122.06 L773.86,122.92 L770.31,123.77 L766.76,124.62 L763.23,125.46 L759.70,126.30 L756.18,127.14 L752.66,127.96 L749.16,128.79 L745.66,129.60 L742.17,130.41 L738.69,131.22 L735.21,132.02 L731.74,132.82 L728.28,133.61 L724.83,134.40 L721.38,135.18 L717.94,135.96 L714.51,136.73 L711.09,137.50 L707.67,138.26 L704.26,139.02 L700.86,139.77 L697.47,140.52 L694.09,141.27 L690.71,142.01 L687.34,142.74 L683.98,143.47 L680.62,144.20 L677.28,144.92 L673.94,145.64 L670.61,146.35 L667.28,147.06 L663.97,147.76 L660.66,148.46 L657.36,149.16 L654.07,149.85 L650.78,150.54 L647.51,151.22 L644.24,151.90 L640.98,152.58 L637.72,153.25 L634.48,153.91 L631.24,154.58 L628.01,155.24 L624.79,155.89 L621.57,156.54 L618.37,157.19 L615.17,157.83 L611.98,158.47 L608.80,159.11 L605.62,159.74 L602.46,160.37 L599.30,161.00 L596.15,161.62 L593.01,162.23 L589.87,162.85 L586.75,163.46 L583.63,164.07 L580.52,164.67 L577.42,165.27 L574.33,165.87 L571.24,166.46 L568.16,167.05 L565.09,167.64 L562.03,168.22 L558.98,168.80 L555.94,169.38 L552.90,169.95 L549.87,170.52 L546.85,171.09 L543.84,171.65 L540.84,172.21 L537.84,172.77 L534.85,173.33 L531.88,173.88 L528.91,174.43 L525.94,174.97 L522.99,175.52 L520.05,176.06 L517.11,176.59 L514.18,177.13 L511.26,177.66 L508.35,178.19 L505.45,178.72 L502.55,179.24 L499.67,179.76 L496.79,180.28 L493.92,180.80 L491.06,181.31 L488.21,181.82 L485.37,182.33 L482.53,182.84 L479.71,183.34 L476.89,183.84 L474.08,184.34 L471.28,184.84 L468.49,185.33 L465.71,185.82 L462.93,186.31 L460.17,186.80 L457.41,187.29 L454.67,187.77 L451.93,188.26 L449.20,188.74 L446.48,189.21 L443.76,189.69 L441.06,190.17 L438.37,190.64 L435.68,191.11 L433.00,191.58 L430.34,192.05 L427.68,192.52 L425.03,192.98 L422.39,193.45 L419.76,193.91 L417.13,194.37 L414.52,194.83 L411.92,195.29 L409.32,195.75 L406.74,196.21 L404.16,196.67 L401.59,197.12 L399.03,197.58 L396.48,198.03 L393.94,198.48 L391.41,198.94 L388.89,199.39 L386.38,199.84 L383.88,200.29 L381.38,200.75 L378.90,201.20 L376.43,201.65 L373.96,202.10 L371.50,202.55 L369.06,203.01 L366.62,203.46 L364.19,203.91 L361.78,204.37 L359.37,204.82 L356.97,205.28 L354.58,205.73 L352.20,206.19 L349.83,206.65 L347.47,207.11 L345.12,207.57 L342.78,208.04 L340.45,208.50 L338.13,208.97 L335.82,209.44 L333.52,209.91 L331.23,210.38 L328.95,210.86 L326.68,211.34 L324.42,211.82 L322.17,212.30 L319.93,212.79 L317.70,213.28 L315.48,213.78 L313.26,214.28 L311.06,214.78 L308.87,215.29 L306.69,215.80 L304.52,216.32 L302.37,216.84 L300.22,217.37 L298.08,217.90 L295.95,218.44 L293.83,218.98 L291.72,219.53 L289.63,220.09 L287.54,220.65 L285.47,221.22 L283.40,221.80 L281.35,222.38 L279.30,222.98 L277.27,223.58 L275.25,224.19 L273.24,224.81 L271.24,225.43 L269.25,226.07 L267.27,226.72 L265.30,227.38 L263.34,228.05 L261.40,228.73 L259.46,229.42 L257.54,230.12 L255.63,230.84 L253.73,231.57 L251.84,232.31 L249.96,233.07 L248.09,233.84 L246.24,234.62 L244.39,235.42 L242.56,236.24 L240.74,237.07 L238.93,237.92 L237.13,238.78 L235.34,239.67 L233.57,240.57 L231.80,241.49 L230.05,242.43 L228.31,243.39 L226.59,244.37 L224.87,245.38 L223.17,246.40 L221.48,247.45 L219.80,248.52 L218.13,249.61 L216.48,250.73 L214.84,251.88 L213.21,253.05 L211.59,254.24 L209.99,255.47 L208.39,256.72 L206.82,258.00 L205.25,259.31 L203.70,260.65 L202.15,262.02 L200.63,263.42 L199.11,264.85 L197.61,266.32 L196.12,267.82 L194.65,269.35 L193.19,270.92 L191.74,272.53 L190.30,274.17 L188.88,275.85 L187.47,277.56 L186.08,279.32 L184.70,281.11 L183.33,282.94 L181.98,284.81 L180.64,286.73 L179.32,288.68 L178.01,290.67 L176.72,292.71 L175.44,294.79 L174.17,296.91 L172.92,299.07 L171.69,301.28 L170.47,303.53 L169.26,305.82 L168.07,308.16 L166.90,310.53 L165.74,312.95 L164.59,315.42 L163.47,317.92 L162.35,320.46 L161.26,323.05 L160.18,325.68 L159.12,328.34 L158.07,331.04 L157.04,333.78 L156.03,336.55 L155.03,339.36 L154.06,342.19 L153.10,345.06 L152.15,347.96 L151.23,350.87 L150.32,353.82 L149.44,356.78 L148.57,359.75 L147.72,362.74 L146.89,365.74 L146.08,368.74 L145.29,371.74 L144.52,374.74 L143.77,377.73 L143.04,380.71 L142.34,383.66 L141.65,386.59 L140.99,389.49 L140.35,392.34 L139.73,395.15 L139.14,397.90 L138.58,400.59 L138.03,403.21 L137.52,405.74 L137.03,408.18 L136.57,410.51 L136.14,412.73 L135.75,414.81 L135.38,416.75 L135.05,418.53 L134.76,420.12 L134.51,421.50 L134.30,422.64 L134.15,423.48 L134.07,423.89 L133.70,425.96" fill="none" stroke="#000000" stroke-width="1.4" stroke-dasharray="10.45 7.940" stroke-dashoffset="7.2"/>
</g>
<path d="M120.0,279.0 H827.5" stroke="#666666" stroke-width="1.25" fill="none"/>
<path d="M134.07,438.5 v-5.0 M134.07,1.4 v5.0 M157.50,438.5 v-8.3 M157.50,1.4 v8.3 M180.92,438.5 v-5.0 M180.92,1.4 v5.0 M204.35,438.5 v-5.0 M204.35,1.4 v5.0 M227.77,438.5 v-5.0 M227.77,1.4 v5.0 M251.20,438.5 v-8.3 M251.20,1.4 v8.3 M274.62,438.5 v-5.0 M274.62,1.4 v5.0 M298.05,438.5 v-5.0 M298.05,1.4 v5.0 M321.47,438.5 v-5.0 M321.47,1.4 v5.0 M344.90,438.5 v-8.3 M344.90,1.4 v8.3 M368.32,438.5 v-5.0 M368.32,1.4 v5.0 M391.75,438.5 v-5.0 M391.75,1.4 v5.0 M415.17,438.5 v-5.0 M415.17,1.4 v5.0 M438.60,438.5 v-8.3 M438.60,1.4 v8.3 M462.02,438.5 v-5.0 M462.02,1.4 v5.0 M485.45,438.5 v-5.0 M485.45,1.4 v5.0 M508.87,438.5 v-5.0 M508.87,1.4 v5.0 M532.30,438.5 v-8.3 M532.30,1.4 v8.3 M555.72,438.5 v-5.0 M555.72,1.4 v5.0 M579.15,438.5 v-5.0 M579.15,1.4 v5.0 M602.57,438.5 v-5.0 M602.57,1.4 v5.0 M626.00,438.5 v-8.3 M626.00,1.4 v8.3 M649.42,438.5 v-5.0 M649.42,1.4 v5.0 M672.85,438.5 v-5.0 M672.85,1.4 v5.0 M696.27,438.5 v-5.0 M696.27,1.4 v5.0 M719.70,438.5 v-8.3 M719.70,1.4 v8.3 M743.12,438.5 v-5.0 M743.12,1.4 v5.0 M766.55,438.5 v-5.0 M766.55,1.4 v5.0 M789.98,438.5 v-5.0 M789.98,1.4 v5.0 M813.40,438.5 v-8.3 M813.40,1.4 v8.3 M120.0,422.58 h5.0 M827.5,422.58 h-5.0 M120.0,398.65 h8.3 M827.5,398.65 h-8.3 M120.0,374.72 h5.0 M827.5,374.72 h-5.0 M120.0,350.79 h5.0 M827.5,350.79 h-5.0 M120.0,326.86 h5.0 M827.5,326.86 h-5.0 M120.0,302.93 h5.0 M827.5,302.93 h-5.0 M120.0,279.00 h8.3 M827.5,279.00 h-8.3 M120.0,255.07 h5.0 M827.5,255.07 h-5.0 M120.0,231.14 h5.0 M827.5,231.14 h-5.0 M120.0,207.21 h5.0 M827.5,207.21 h-5.0 M120.0,183.28 h5.0 M827.5,183.28 h-5.0 M120.0,159.35 h8.3 M827.5,159.35 h-8.3 M120.0,135.42 h5.0 M827.5,135.42 h-5.0 M120.0,111.49 h5.0 M827.5,111.49 h-5.0 M120.0,87.56 h5.0 M827.5,87.56 h-5.0 M120.0,63.63 h5.0 M827.5,63.63 h-5.0 M120.0,39.70 h8.3 M827.5,39.70 h-8.3 M120.0,15.77 h5.0 M827.5,15.77 h-5.0" stroke="#666666" stroke-width="1.25" fill="none"/>
<rect x="120.0" y="1.4" width="707.5" height="437.1" fill="none" stroke="#666666" stroke-width="1.25"/>
<rect x="59.2" y="399.65" width="10.6" height="1.15" fill="#000"/>
<g font-size="20.6">
<text x="157.5" y="464.1" text-anchor="middle">2.6</text>
<text x="251.2" y="464.1" text-anchor="middle">2.8</text>
<text x="344.9" y="464.1" text-anchor="middle">3.0</text>
<text x="438.6" y="464.1" text-anchor="middle">3.2</text>
<text x="532.3" y="464.1" text-anchor="middle">3.4</text>
<text x="626.0" y="464.1" text-anchor="middle">3.6</text>
<text x="719.7" y="464.1" text-anchor="middle">3.8</text>
<text x="813.4" y="464.1" text-anchor="middle">4.0</text>
<text x="112.7" y="46.7" text-anchor="end">10<tspan dx="3.1">000</tspan></text>
<text x="112.7" y="166.3" text-anchor="end">5000</text>
<text x="112.7" y="286.0" text-anchor="end">0</text>
<text x="112.7" y="405.6" text-anchor="end">5000</text>
</g>
<text transform="translate(32.5,221) rotate(-90)" font-size="36" text-anchor="middle">Tr(H)</text>
<text x="456" y="518" font-size="36" font-style="italic">r<tspan font-size="26" dy="6" dx="-0.5">H</tspan></text>
</svg>
</body></html>
